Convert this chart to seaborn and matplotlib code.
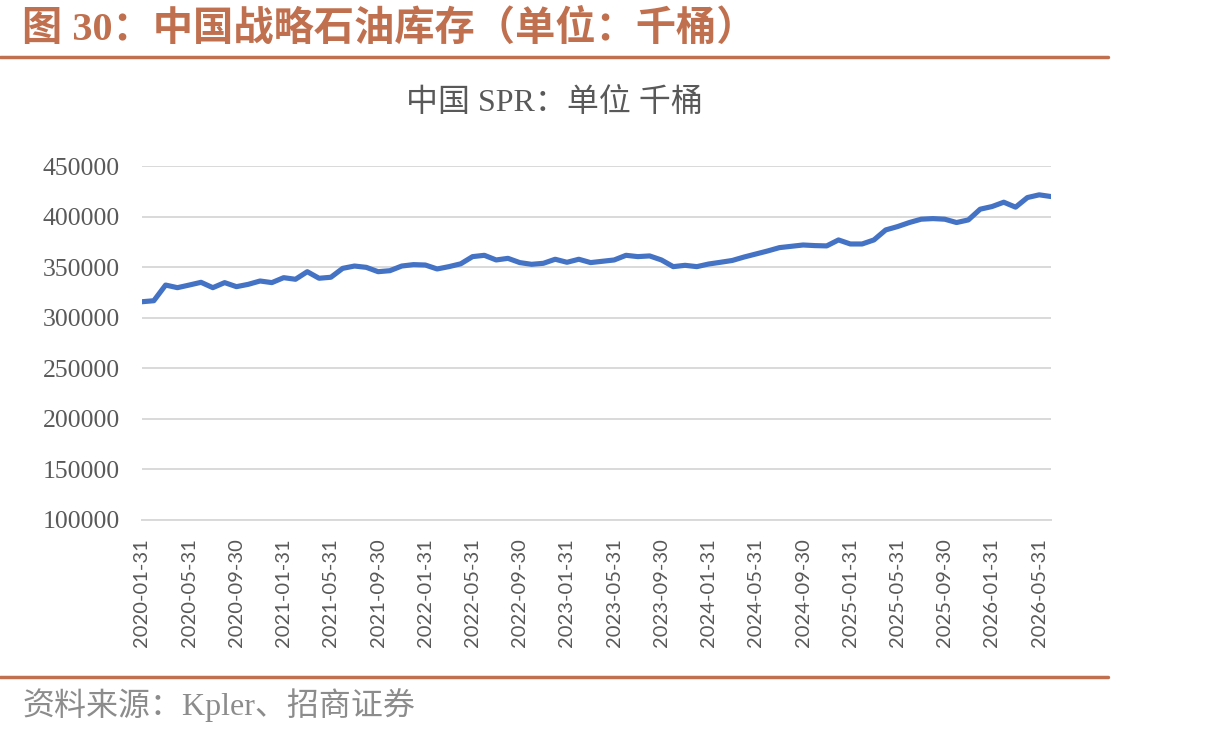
import matplotlib
matplotlib.use("Agg")
import matplotlib.pyplot as plt
from matplotlib.lines import Line2D
import seaborn as sns
import numpy as np
import pandas as pd

# month-end dates, Jan 2020 .. Jun 2026
months = pd.date_range("2020-01-31", "2026-06-30", freq="ME").strftime("%Y-%m-%d").tolist()

# China SPR, thousand barrels
spr_values = [
    315800, 316800, 332300, 329700, 332300, 335000, 329700, 334700, 330700, 333000,
    336300, 334700, 339600, 338000, 345500, 339000, 340000, 348800, 351100, 349800,
    345500, 346500, 351100, 352500, 352100, 348200, 350500, 353300, 360400, 361700,
    357100, 358700, 354500, 352800, 353800, 357800, 354800, 357800, 354500, 355800,
    357100, 361700, 360400, 361100, 357100, 350500, 351800, 350500, 353100, 354800,
    356600, 360000, 363000, 366000, 369300, 370600, 371900, 371300, 371000, 376900,
    372900, 372900, 376900, 386800, 390100, 394100, 397400, 398000, 397400, 394100,
    396700, 407300, 409900, 414200, 409300, 418800, 421500, 419800,
]
y_ticks = [100000, 150000, 200000, 250000, 300000, 350000, 400000, 450000]

title = "图 30：中国战略石油库存（单位：千桶）"
chart_title = "中国 SPR：单位 千桶"
source = "资料来源：Kpler、招商证券"

df = pd.DataFrame({"idx": np.arange(len(months)), "month": months, "spr": spr_values})

sns.set_style("white")
plt.rcParams["font.family"] = ["Liberation Serif", "Noto Sans CJK SC", "DejaVu Sans"]

W, H = 1219, 737
fig = plt.figure(figsize=(W / 100, H / 100), dpi=100)
ax = fig.add_axes([142 / W, 1 - 520 / H, (1051 - 142) / W, (520 - 166) / H])

sns.lineplot(data=df, x="idx", y="spr", color="#4472C4", linewidth=3.7, ax=ax)

ax.set_xlim(0, len(months) - 1)
ax.set_ylim(100000, 450000)
ax.set_yticks(y_ticks)
ax.set_yticklabels([str(v) for v in y_ticks])
tick_pos = df["idx"][::4].tolist()
ax.set_xticks(tick_pos)
ax.set_xticklabels(df["month"][::4].tolist(), rotation=90, family=["Lato", "DejaVu Sans"],
                   fontsize=14.5, color="#595959")
ax.set_xlabel("")
ax.set_ylabel("")

ax.yaxis.grid(True, color="#D9D9D9", linewidth=1.4)
ax.set_axisbelow(True)
for s in ["top", "right", "left"]:
    ax.spines[s].set_visible(False)
ax.spines["bottom"].set_color("#D9D9D9")
ax.spines["bottom"].set_linewidth(1.4)
ax.tick_params(axis="y", length=0, pad=16, labelsize=18.5, labelcolor="#595959")
ax.tick_params(axis="x", direction="out", length=4, width=1.4, color="#D9D9D9", pad=9)

red = "#C0704E"
fig.text(22 / W, 1 - 29 / H, title, fontsize=29, fontweight="bold", color=red,
         ha="left", va="center")
fig.add_artist(Line2D([0, 1108 / W], [1 - 57 / H] * 2, color=red, linewidth=2.5,
                      transform=fig.transFigure))
fig.text(554 / W, 1 - 103 / H, chart_title, fontsize=23, color="#595959",
         ha="center", va="center")
fig.add_artist(Line2D([0, 1108 / W], [1 - 677 / H] * 2, color=red, linewidth=2.5,
                      transform=fig.transFigure))
fig.text(22 / W, 1 - 705 / H, source, fontsize=23, color="#8C8C8C",
         ha="left", va="center")

fig.savefig("out.png", dpi=100)
